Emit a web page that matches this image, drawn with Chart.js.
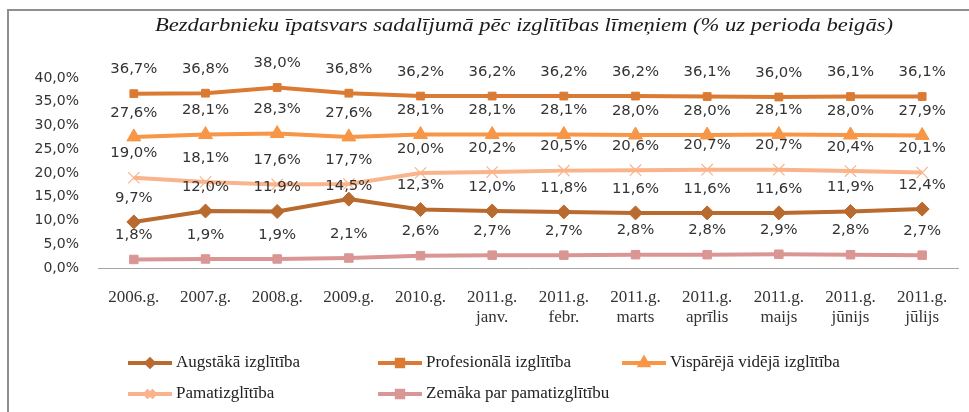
<!DOCTYPE html>
<html>
<head>
<meta charset="utf-8">
<script src="https://cdn.jsdelivr.net/npm/chart.js@4.4.1/dist/chart.umd.min.js"></script>
<style>
  html, body { margin: 0; padding: 0; background: #ffffff; }
  canvas { display: block; }
</style>
</head>
<body>
<canvas id="c" width="969" height="412"></canvas>
<script>
// ---- data ----
const categories = [
  ['2006.g.'], ['2007.g.'], ['2008.g.'], ['2009.g.'], ['2010.g.'],
  ['2011.g.', 'janv.'], ['2011.g.', 'febr.'], ['2011.g.', 'marts'],
  ['2011.g.', 'aprīlis'], ['2011.g.', 'maijs'], ['2011.g.', 'jūnijs'], ['2011.g.', 'jūlijs']
];
const seriesNames = [
  'Augstākā izglītība',
  'Profesionālā izglītība',
  'Vispārējā vidējā izglītība',
  'Pamatizglītība',
  'Zemāka par pamatizglītību'
];
const augstaka     = [9.7, 12.0, 11.9, 14.5, 12.3, 12.0, 11.8, 11.6, 11.6, 11.6, 11.9, 12.4];
const profesionala = [36.7, 36.8, 38.0, 36.8, 36.2, 36.2, 36.2, 36.2, 36.1, 36.0, 36.1, 36.1];
const visparejaVideja = [27.6, 28.1, 28.3, 27.6, 28.1, 28.1, 28.1, 28.0, 28.0, 28.1, 28.0, 27.9];
const pamat        = [19.0, 18.1, 17.6, 17.7, 20.0, 20.2, 20.5, 20.6, 20.7, 20.7, 20.4, 20.1];
const zemaka       = [1.8, 1.9, 1.9, 2.1, 2.6, 2.7, 2.7, 2.8, 2.8, 2.9, 2.8, 2.7];
const yTicks = [0, 5, 10, 15, 20, 25, 30, 35, 40];
const titleText = 'Bezdarbnieku īpatsvars sadalījumā pēc izglītības līmeņiem (% uz perioda beigās)';

const fmt = v => v.toFixed(1).replace('.', ',') + '%';

// ---- styles ----
const colors = ['#B96A2E', '#DB7B33', '#F79646', '#F9B48B', '#D99694'];
const styles = [
  { pointStyle: 'rectRot',  pointRadius: 7,   pointBorderWidth: 1,   legendRadius: 3.5 },
  { pointStyle: 'rect',     pointRadius: 5.5, pointBorderWidth: 1,   legendRadius: 4.5 },
  { pointStyle: 'triangle', pointRadius: 8,   pointBorderWidth: 1,   legendRadius: 4.5 },
  { pointStyle: 'crossRot', pointRadius: 8,   pointBorderWidth: 1.2, legendRadius: 5.5 },
  { pointStyle: 'rect',     pointRadius: 6,   pointBorderWidth: 1,   legendRadius: 4.5 }
];
const values = [augstaka, profesionala, visparejaVideja, pamat, zemaka];

const datasets = values.map((vals, i) => ({
  label: seriesNames[i],
  data: vals,
  borderColor: colors[i],
  backgroundColor: colors[i],
  pointBackgroundColor: colors[i],
  pointBorderColor: colors[i],
  borderWidth: 4,
  tension: 0,
  pointStyle: styles[i].pointStyle,
  pointRadius: styles[i].pointRadius,
  pointBorderWidth: styles[i].pointBorderWidth,
  pointHoverRadius: styles[i].pointRadius,
  order: 5 - i
}));

// ---- plugins ----
const frameAndTitle = {
  id: 'frameAndTitle',
  beforeDraw(chart) {
    const ctx = chart.ctx;
    ctx.save();
    ctx.fillStyle = '#ffffff';
    ctx.fillRect(0, 0, chart.width, chart.height);
    ctx.strokeStyle = '#8e8e8e';
    ctx.lineWidth = 2;
    ctx.strokeRect(8, 10, 1000, 500);
    // title (slightly stretched horizontally, like the original)
    ctx.font = 'italic 18px "Liberation Serif"';
    const w = ctx.measureText(titleText).width;
    const sx = 738 / w;
    ctx.translate(524, 26);
    ctx.scale(sx, 1);
    ctx.fillStyle = '#1a1a1a';
    ctx.textAlign = 'center';
    ctx.textBaseline = 'middle';
    ctx.fillText(titleText, 0, 0);
    ctx.restore();
  }
};

const labelShift = { '0:3': 11 };
const dataLabels = {
  id: 'dataLabels',
  afterDatasetsDraw(chart) {
    const ctx = chart.ctx;
    ctx.save();
    ctx.font = '14px "DejaVu Sans"';
    ctx.fillStyle = '#333333';
    ctx.textAlign = 'center';
    ctx.textBaseline = 'middle';
    chart.data.datasets.forEach((ds, di) => {
      const meta = chart.getDatasetMeta(di);
      meta.data.forEach((pt, i) => {
        const shift = labelShift[di + ':' + i] || 0;
        const y = pt.y - 24 + shift;
        ctx.save();
        ctx.translate(pt.x, y);
        ctx.scale(1.06, 1);
        ctx.fillText(fmt(ds.data[i]), 0, 0);
        ctx.restore();
      });
    });
    ctx.restore();
  }
};

const customLegend = {
  id: 'customLegend',
  afterDraw(chart) {
    const ctx = chart.ctx;
    const cols = [128, 378, 622];
    const rows = [363, 394];
    ctx.save();
    chart.data.datasets.forEach((ds, i) => {
      const x = cols[i % 3];
      const y = rows[Math.floor(i / 3)];
      ctx.strokeStyle = colors[i];
      ctx.fillStyle = colors[i];
      ctx.lineWidth = 4;
      ctx.beginPath();
      ctx.moveTo(x, y);
      ctx.lineTo(x + 44, y);
      ctx.stroke();
      Chart.helpers.drawPoint(ctx, {
        pointStyle: styles[i].pointStyle,
        radius: styles[i].legendRadius,
        rotation: 0,
        borderWidth: styles[i].pointBorderWidth
      }, x + 22, y);
      ctx.fillStyle = '#222222';
      ctx.font = '17px "Liberation Serif"';
      ctx.textAlign = 'left';
      ctx.textBaseline = 'middle';
      ctx.fillText(ds.label, x + 48, y);
    });
    ctx.restore();
  }
};

new Chart(document.getElementById('c'), {
  type: 'line',
  data: { labels: categories, datasets },
  options: {
    responsive: false,
    animation: false,
    events: [],
    layout: { padding: { top: 78, left: 0, right: 11, bottom: 84 } },
    plugins: {
      legend: { display: false },
      title: { display: false },
      tooltip: { enabled: false }
    },
    scales: {
      x: {
        type: 'category',
        offset: true,
        grid: { display: false, drawTicks: false },
        border: { display: true, color: '#a6a6a6', width: 1 },
        ticks: {
          autoSkip: false, maxRotation: 0, minRotation: 0,
          padding: 20,
          color: '#333333',
          font: { family: '"Liberation Serif"', size: 17, lineHeight: 1.15 }
        },
        afterFit(scale) { scale.height = 60; }
      },
      y: {
        min: 0, max: 40,
        afterBuildTicks(scale) { scale.ticks = yTicks.map(v => ({ value: v })); },
        grid: { display: false, drawTicks: false },
        border: { display: false },
        ticks: {
          padding: 19,
          color: '#333333',
          font: { family: '"DejaVu Sans"', size: 14 },
          callback: v => fmt(v)
        },
        afterFit(scale) { scale.width = 98; }
      }
    }
  },
  plugins: [frameAndTitle, dataLabels, customLegend]
});
</script>
</body>
</html>
